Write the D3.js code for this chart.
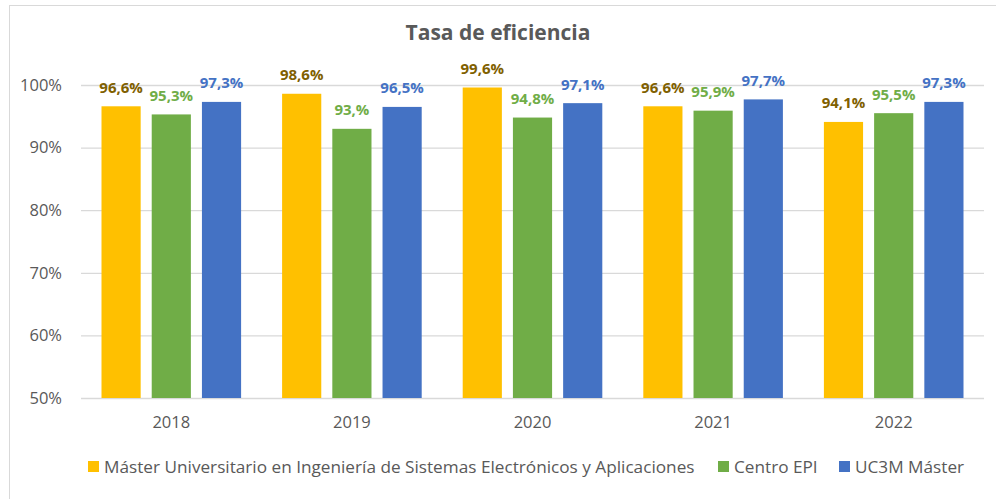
<!DOCTYPE html>
<html>
<head>
<meta charset="utf-8">
<script src="https://cdn.jsdelivr.net/npm/d3@7"></script>
<style>
  body { margin: 0; background: #fff; }
  text { font-family: "Open Sans", "Noto Sans", sans-serif; }
</style>
</head>
<body>
<div id="chart"></div>
<script>
// Data
var years = ["2018", "2019", "2020", "2021", "2022"];
var seriesNames = [
  "Máster Universitario en Ingeniería de Sistemas Electrónicos y Aplicaciones",
  "Centro EPI",
  "UC3M Máster"
];
var masterVals = [96.6, 98.6, 99.6, 96.6, 94.1];
var epiVals = [95.3, 93.0, 94.8, 95.9, 95.5];
var uc3mVals = [97.3, 96.5, 97.1, 97.7, 97.3];
var masterLabels = ["96,6%", "98,6%", "99,6%", "96,6%", "94,1%"];
var epiLabels = ["95,3%", "93,%", "94,8%", "95,9%", "95,5%"];
var uc3mLabels = ["97,3%", "96,5%", "97,1%", "97,7%", "97,3%"];
var yTicks = [50, 60, 70, 80, 90, 100];

var barColors = ["#ffc000", "#70ad47", "#4472c4"];
var labelColors = ["#7f6000", "#70ad47", "#4472c4"];

var svgWidth = 996;
var svgHeight = 499;

var margin = { top: 85, right: 12, bottom: 101, left: 81 };
var width = svgWidth - margin.left - margin.right;
var height = svgHeight - margin.top - margin.bottom;

var svg = d3.select("#chart")
  .append("svg")
  .attr("width", svgWidth)
  .attr("height", svgHeight);

// chart border (only left/top show in the reference)
svg.append("rect")
  .attr("x", 9.5).attr("y", 5.5)
  .attr("width", 1000).attr("height", 600)
  .attr("fill", "#fff")
  .attr("stroke", "#d9d9d9");

svg.append("text")
  .attr("x", 498).attr("y", 40)
  .attr("text-anchor", "middle")
  .attr("font-size", 21)
  .attr("font-weight", "bold")
  .attr("fill", "#595959")
  .text("Tasa de eficiencia");

var chartGroup = svg.append("g")
  .attr("transform", `translate(${margin.left}, ${margin.top})`);

var series = [
  { vals: masterVals, labels: masterLabels },
  { vals: epiVals, labels: epiLabels },
  { vals: uc3mVals, labels: uc3mLabels }
];

var x0 = d3.scaleBand().domain(years).range([0, width]).padding(0);
var x1 = d3.scaleBand().domain([0, 1, 2])
  .range([20.5, x0.bandwidth() - 20.5])
  .paddingInner(0.22).paddingOuter(0);
var y = d3.scaleLinear().domain([50, 100]).range([height, 0]);

// gridlines
chartGroup.selectAll(".grid")
  .data(yTicks)
  .enter().append("line")
  .attr("x1", 0).attr("x2", width)
  .attr("y1", d => y(d) + 0.5).attr("y2", d => y(d) + 0.5)
  .attr("stroke", "#d9d9d9")
  .attr("stroke-width", 1.3);

// y axis labels
var leftAxis = d3.axisLeft(y).tickValues(yTicks).tickFormat(d => d + "%").tickSize(0).tickPadding(19);
chartGroup.append("g")
  .call(leftAxis)
  .call(g => g.select(".domain").remove())
  .selectAll("text")
  .attr("font-size", 16.5)
  .attr("fill", "#595959")
  .style("font-family", "'Open Sans', sans-serif");

// x axis labels
var bottomAxis = d3.axisBottom(x0).tickSize(0).tickPadding(18);
chartGroup.append("g")
  .attr("transform", `translate(0, ${height})`)
  .call(bottomAxis)
  .call(g => g.select(".domain").remove())
  .selectAll("text")
  .attr("font-size", 16.5)
  .attr("fill", "#595959")
  .style("font-family", "'Open Sans', sans-serif");

// bars + labels
series.forEach(function(s, i) {
  var g = chartGroup.append("g");
  g.selectAll("rect")
    .data(years)
    .enter().append("rect")
    .attr("x", (d, j) => x0(d) + x1(i))
    .attr("y", (d, j) => y(s.vals[j]))
    .attr("width", x1.bandwidth())
    .attr("height", (d, j) => y(50) - y(s.vals[j]))
    .attr("fill", barColors[i]);

  g.selectAll("text")
    .data(years)
    .enter().append("text")
    .attr("x", (d, j) => x0(d) + x1(i) + x1.bandwidth() / 2)
    .attr("y", (d, j) => y(s.vals[j]) - 13.5)
    .attr("text-anchor", "middle")
    .attr("font-size", 15)
    .attr("font-weight", "bold")
    .attr("fill", labelColors[i])
    .text((d, j) => s.labels[j]);
});

// legend
var legendX = [88, 718, 839];
var legend = svg.append("g").attr("transform", "translate(0, 467)");
seriesNames.forEach(function(name, i) {
  legend.append("rect")
    .attr("x", legendX[i]).attr("y", -6)
    .attr("width", 11).attr("height", 11)
    .attr("fill", barColors[i]);
  legend.append("text")
    .attr("x", legendX[i] + 16).attr("y", 6)
    .attr("font-size", 17.2)
    .attr("fill", "#595959")
    .text(name);
});
</script>
</body>
</html>
